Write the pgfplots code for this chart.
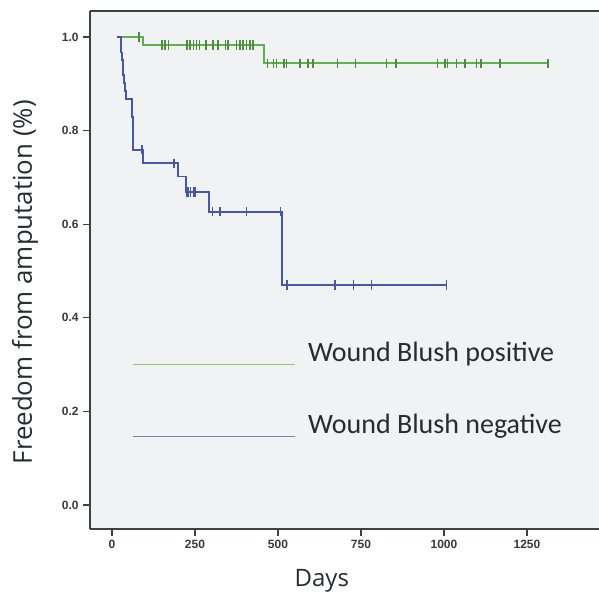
\documentclass[border=0pt]{standalone}
\usepackage{fontspec}
\setmainfont{Open Sans}
\newfontfamily\legfont{Carlito}
\newfontfamily\tickfont{Liberation Sans}
\usepackage{pgfplots}
\pgfplotsset{compat=1.18}
\usetikzlibrary{calc}
\definecolor{kmgreen}{RGB}{95,178,78}
\definecolor{kmblue}{RGB}{72,86,172}
\definecolor{leggreen}{RGB}{150,200,110}
\definecolor{legblue}{RGB}{110,130,190}
\definecolor{framecol}{RGB}{60,66,72}
\definecolor{bgcol}{RGB}{241,242,244}
\definecolor{txtcol}{RGB}{40,44,50}
\definecolor{tickcol}{RGB}{55,58,62}

\begin{document}
\begin{tikzpicture}
\begin{axis}[
  scale only axis, width=381.75pt, height=388.5pt,
  xmin=-66.3, xmax=1467, ymin=-0.0513, ymax=1.0556,
  separate axis lines, axis x line=box, axis y line=left,
  axis line style={-, framecol, line width=1.3pt},
  xtick={0,250,500,750,1000,1250}, ytick={0,0.2,0.4,0.6,0.8,1.0},
  xtick pos=bottom, ytick pos=left,
  tick align=outside, major tick length=5pt,
  tick style={framecol, line width=1pt},
  /pgf/number format/assume math mode=true,
  /pgf/number format/1000 sep={},
  xticklabel style={font=\tickfont\bfseries\fontsize{9}{10}\selectfont, text=tickcol},
  yticklabel style={font=\tickfont\bfseries\fontsize{9}{10}\selectfont, text=tickcol,
    /pgf/number format/.cd, fixed, fixed zerofill, precision=1},
  axis background/.style={fill=bgcol},
  clip=false,
]
% green: wound blush positive
\addplot[const plot, kmgreen, line width=1.4pt] coordinates {
  (14,1.0)(93,0.983)(458,0.944)(1314,0.944)
};
\addplot[only marks, mark=|, mark size=3.5pt, kmgreen!80!black, mark options={line width=1.2pt}] coordinates {
  (81,1.0)
  (150,0.983)(160,0.983)(170,0.983)(225,0.983)(235,0.983)(245,0.983)(255,0.983)
  (263,0.983)(283,0.983)(305,0.983)(320,0.983)(342,0.983)(350,0.983)(375,0.983)
  (385,0.983)(395,0.983)(405,0.983)(415,0.983)(425,0.983)
  (468,0.944)(486,0.944)(496,0.944)(518,0.944)(526,0.944)(566,0.944)(591,0.944)
  (606,0.944)(679,0.944)(734,0.944)(827,0.944)(855,0.944)(980,0.944)(1003,0.944)
  (1011,0.944)(1038,0.944)(1063,0.944)(1098,0.944)(1111,0.944)(1169,0.944)(1314,0.944)
};
% blue: wound blush negative
\addplot[const plot, kmblue, line width=1.4pt] coordinates {
  (14,1.0)(26,0.984)(28,0.967)(30,0.951)(32,0.934)(34,0.918)(36,0.901)(38,0.885)
  (41,0.868)(59,0.830)(62,0.759)(93,0.730)(200,0.702)(222,0.669)(293,0.627)
  (511,0.47)(1010,0.47)
};
\addplot[only marks, mark=|, mark size=3.5pt, kmblue, mark options={line width=1.2pt}] coordinates {
  (90,0.759)(187,0.730)(225,0.669)(229,0.669)(236,0.669)(247,0.669)(252,0.669)
  (303,0.627)(325,0.627)(405,0.627)(508,0.627)
  (528,0.47)(672,0.47)(727,0.47)(782,0.47)(1008,0.47)
};
% legend
\draw[leggreen, line width=1pt] (axis cs:64,0.300) -- (axis cs:551,0.300);
\node[anchor=base west, inner sep=0pt, text=txtcol, font=\legfont\fontsize{21}{24}\selectfont]
  at (axis cs:590,0.306) {Wound Blush positive};
\draw[legblue, line width=1pt] (axis cs:64,0.146) -- (axis cs:551,0.146);
\node[anchor=base west, inner sep=0pt, text=txtcol, font=\legfont\fontsize{21}{24}\selectfont]
  at (axis cs:590,0.153) {Wound Blush negative};
% axis titles
\node[anchor=base, inner sep=0pt, text=txtcol, font=\fontsize{18}{20}\selectfont]
  at (axis cs:632,-0.175) {Days};
\node[rotate=90, inner sep=0pt, text=txtcol, font=\fontsize{19.4}{22}\selectfont]
  at (axis cs:-262,0.476) {Freedom from amputation (\%)};
\coordinate (bl) at (rel axis cs:0,0);
\coordinate (tr) at (rel axis cs:1,1);
\end{axis}
\pgfresetboundingbox
\path ($(bl)+(-67.5pt,-50.25pt)$) rectangle ($(tr)+(0,8.25pt)$);
\end{tikzpicture}
\end{document}
